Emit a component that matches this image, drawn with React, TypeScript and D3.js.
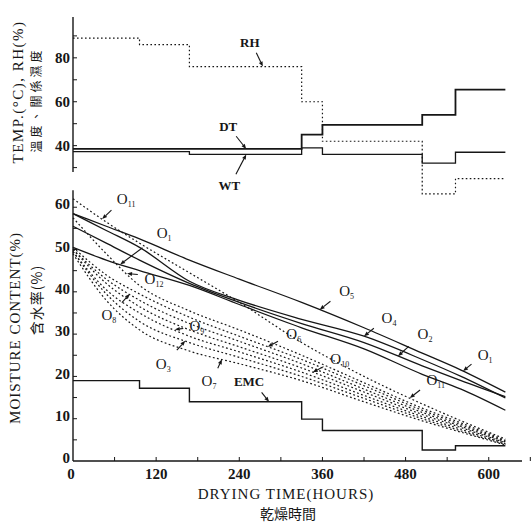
import * as d3 from "d3";

// drying time (hours) sampled along each moisture curve
const HOURS = [0, 48, 96, 168, 240, 330, 420, 504, 560, 624];

// solid curves
const O5 = [58.5, 55.5, 52.5, 47.5, 43, 37.5, 31.5, 25.5, 21.5, 16.3];
const O4 = [58.5, 54.5, 50.5, 42.5, 38, 33.5, 29.5, 24, 20, 14.9];
const O2 = [55.5, 51.5, 47.5, 42, 37.5, 32.5, 28, 22.5, 19, 15.2];
const O1 = [50.5, 47.5, 45, 41.5, 37, 31.5, 26.5, 20.5, 17, 12];

// dotted curves
const O11 = [62, 56.5, 51.5, 44.5, 37.5, 28, 20, 13.5, 9.5, 5.2];
const O12 = [57.5, 49, 41.5, 35.5, 31, 25, 18.5, 12.5, 9, 4.9];
const O6 = [50.5, 44, 39.5, 34, 29.5, 24, 17.8, 12, 8.6, 4.7];
const O8 = [50, 43, 38, 32.5, 28.3, 23, 17, 11.5, 8.2, 4.5];
const O10 = [50, 42, 36.5, 31, 27, 22, 16.3, 11, 7.9, 4.3];
const O9 = [49.5, 40.5, 35, 29.5, 25.8, 21, 15.5, 10.5, 7.5, 4.1];
const O3 = [49.5, 39.5, 33, 28, 24.5, 20, 14.8, 10, 7.1, 3.9];
const O7 = [49, 38, 31, 26, 23, 19, 14, 9.5, 6.8, 3.8];

// kiln schedule steps
const STEP_HOURS = [0, 96, 168, 330, 360, 504, 552];
const END_HOUR = 624;
const RH = [89, 86, 76, 60, 42, 18, 25];
const DT = [38.5, 38.5, 38.5, 45, 49.5, 54, 65.5];
const WT = [37.3, 37.3, 36, 39, 36, 32, 37];
const EMC = [19, 17.2, 14, 9.9, 7.2, 2.6, 3.6];

const X_LABELS = [0, 120, 240, 360, 480, 600];
const MC_LABELS = [0, 10, 20, 30, 40, 50, 60];
const TOP_LABELS = [40, 60, 80];

const solidSeries = [
  { name: "O5", values: O5 },
  { name: "O4", values: O4 },
  { name: "O2", values: O2 },
  { name: "O1", values: O1 },
];
const dottedSeries = [
  { name: "O11", values: O11 },
  { name: "O12", values: O12 },
  { name: "O6", values: O6 },
  { name: "O8", values: O8 },
  { name: "O10", values: O10 },
  { name: "O9", values: O9 },
  { name: "O3", values: O3 },
  { name: "O7", values: O7 },
];

// annotations: [label, subscript, series, hour, label dx, label dy]
const BOTTOM_NOTES: [string, string, string, number, number, number][] = [
  ["O", "11", "O11", 42, 20, -19],
  ["O", "1", "O1", 68, 40, -30],
  ["O", "12", "O12", 78, 23, 2],
  ["O", "8", "O8", 82, -17, 18],
  ["O", "9", "O9", 147, 18, -2],
  ["O", "3", "O3", 162, -18, 20],
  ["O", "7", "O7", 215, -9, 19],
  ["EMC", "", "EMC", 283, -16, -20],
  ["O", "6", "O6", 281, 22, -12],
  ["O", "10", "O10", 346, 23, -12],
  ["O", "5", "O5", 356, 23, -18],
  ["O", "4", "O4", 420, 21, -17],
  ["O", "2", "O2", 469, 23, -21],
  ["O", "1", "O5", 563, 18, -15],
  ["O", "11", "O11", 486, 22, -17],
];
const TOP_NOTES: [string, string, number, number, number][] = [
  ["RH", "RH", 274, -10, -21],
  ["DT", "DT", 250, -15, -19],
  ["WT", "WT", 250, -14, 27],
];

const INK = "#161616";
const SERIF = "'Liberation Serif', 'DejaVu Serif', serif";
const CJK = "'Noto Sans CJK TC', 'Noto Sans CJK JP', sans-serif";

function interp(values: number[], h: number) {
  return d3.scaleLinear().domain(HOURS).range(values).clamp(true)(h);
}
function stepAt(values: number[], h: number) {
  const i = d3.bisectRight(STEP_HOURS, h) - 1;
  return values[Math.max(0, i)];
}

export default function App() {
  const width = 532;
  const height = 528;

  const x = d3.scaleLinear().domain([0, 648]).range([73, 522]);
  const yMc = d3.scaleLinear().domain([0, 64]).range([461, 190.3]);
  const yTop = d3.scaleLinear().domain([28, 98.6]).range([172, 17]);

  const curve = d3
    .line<[number, number]>()
    .x((d) => x(d[0]))
    .y((d) => yMc(d[1]))
    .curve(d3.curveMonotoneX);

  const stepLine = (ys: d3.ScaleLinear<number, number>) =>
    d3
      .line<[number, number]>()
      .x((d) => x(d[0]))
      .y((d) => ys(d[1]))
      .curve(d3.curveStepAfter);

  const stepPts = (vals: number[]): [number, number][] => [
    ...STEP_HOURS.map((h, i) => [h, vals[i]] as [number, number]),
    [END_HOUR, vals[vals.length - 1]],
  ];

  const allSeries: Record<string, number[]> = {};
  [...solidSeries, ...dottedSeries].forEach((s) => (allSeries[s.name] = s.values));

  const arrow = (tx: number, ty: number, lx: number, ly: number, key: string) => {
    // line from near the label toward the target, with a small head
    const ang = Math.atan2(ty - ly, tx - lx);
    const len = Math.hypot(tx - lx, ty - ly);
    const sx = lx + Math.cos(ang) * Math.min(8, len * 0.35);
    const sy = ly + Math.sin(ang) * Math.min(8, len * 0.35);
    const hl = 5;
    const hw = 2;
    const bx = tx - Math.cos(ang) * hl;
    const by = ty - Math.sin(ang) * hl;
    const px = -Math.sin(ang) * hw;
    const py = Math.cos(ang) * hw;
    return (
      <g key={key}>
        <line x1={sx} y1={sy} x2={bx} y2={by} stroke={INK} strokeWidth={1.1} />
        <path d={`M${tx},${ty}L${bx + px},${by + py}L${bx - px},${by - py}Z`} fill={INK} />
      </g>
    );
  };

  const noteLabel = (main: string, sub: string, lx: number, ly: number, key: string) => (
    <text key={key} x={lx} y={ly + 5} textAnchor="middle" fontFamily={SERIF} fontSize={main === "O" ? 15 : 13} fill={INK} fontWeight={main === "O" ? "normal" : "bold"}>
      {main}
      {sub && (
        <tspan fontSize={8} dy={3}>
          {sub}
        </tspan>
      )}
    </text>
  );

  return (
    <svg width={width} height={height} style={{ position: "absolute", left: 0, top: 0, background: "#fff" }}>
      <rect width={width} height={height} fill="#fff" />

      {/* top panel: temperatures and RH */}
      <line x1={73} x2={73} y1={yTop.range()[1]} y2={yTop.range()[0]} stroke={INK} strokeWidth={1.4} />
      {d3.range(30, 100, 10).map((v) => (
        <line key={"tt" + v} x1={73} x2={77} y1={yTop(v)} y2={yTop(v)} stroke={INK} strokeWidth={1} />
      ))}
      {TOP_LABELS.map((v) => (
        <text key={"tl" + v} x={70} y={yTop(v)} dy="0.35em" textAnchor="end" fontFamily={SERIF} fontSize={15} fontWeight="bold" fill={INK}>
          {v}
        </text>
      ))}
      <path d={stepLine(yTop)(stepPts(RH)) || ""} fill="none" stroke={INK} strokeWidth={1.2} strokeDasharray="1.6,2.4" />
      <path d={stepLine(yTop)(stepPts(DT)) || ""} fill="none" stroke={INK} strokeWidth={1.8} />
      <path d={stepLine(yTop)(stepPts(WT)) || ""} fill="none" stroke={INK} strokeWidth={1.3} />
      {TOP_NOTES.map(([lab, key, h, dx, dy], i) => {
        const vals = key === "RH" ? RH : key === "DT" ? DT : WT;
        const tx = x(h);
        const ty = yTop(stepAt(vals, h));
        return (
          <g key={"tn" + i}>
            {arrow(tx, ty, tx + dx, ty + dy, "ta" + i)}
            {noteLabel(lab, "", tx + dx - 3, ty + dy - (dy < 0 ? 4 : -4), "tx" + i)}
          </g>
        );
      })}

      {/* bottom panel: moisture content */}
      <line x1={73} x2={73} y1={yMc.range()[1]} y2={yMc.range()[0]} stroke={INK} strokeWidth={1.4} />
      <line x1={73} x2={522} y1={yMc(0)} y2={yMc(0)} stroke={INK} strokeWidth={1.4} />
      {d3.range(5, 65, 5).map((v) => (
        <line key={"mt" + v} x1={73} x2={77} y1={yMc(v)} y2={yMc(v)} stroke={INK} strokeWidth={1} />
      ))}
      {d3.range(60, 661, 60).map((h) => (
        <line key={"xt" + h} x1={x(h)} x2={x(h)} y1={yMc(0)} y2={yMc(0) - 4} stroke={INK} strokeWidth={1} />
      ))}
      {MC_LABELS.map((v) => (
        <text key={"ml" + v} x={70} y={yMc(v) - 3} dy="0.35em" textAnchor="end" fontFamily={SERIF} fontSize={15} fontWeight="bold" fill={INK}>
          {v}
        </text>
      ))}
      {X_LABELS.map((h) => (
        <text key={"xl" + h} x={x(h) + (h === 0 ? -2 : 0)} y={479} textAnchor="middle" fontFamily={SERIF} fontSize={15} fontWeight="bold" fill={INK}>
          {h}
        </text>
      ))}

      <path d={stepLine(yMc)(stepPts(EMC)) || ""} fill="none" stroke={INK} strokeWidth={1.4} />

      {dottedSeries.map((s) => (
        <path key={s.name} d={curve(HOURS.map((h, i) => [h, s.values[i]] as [number, number])) || ""} fill="none" stroke={INK} strokeWidth={1.2} strokeDasharray="1.8,2.4" />
      ))}
      {solidSeries.map((s) => (
        <path key={s.name} d={curve(HOURS.map((h, i) => [h, s.values[i]] as [number, number])) || ""} fill="none" stroke={INK} strokeWidth={1.3} />
      ))}

      {BOTTOM_NOTES.map(([main, sub, key, h, dx, dy], i) => {
        const v = key === "EMC" ? stepAt(EMC, h) : interp(allSeries[key], h);
        const tx = x(h);
        const ty = yMc(v);
        return (
          <g key={"bn" + i}>
            {arrow(tx, ty, tx + dx * 0.72, ty + dy * 0.72, "ba" + i)}
            {noteLabel(main, sub, tx + dx + (dx > 0 ? 4 : -4), ty + dy + (dy > 0 ? 3 : -1), "bx" + i)}
          </g>
        );
      })}

      {/* axis titles */}
      <text x={286} y={499} textAnchor="middle" fontFamily={SERIF} fontSize={15} letterSpacing={1} fill={INK}>
        DRYING TIME(HOURS)
      </text>
      <text x={288} y={519} textAnchor="middle" fontFamily={CJK} fontSize={14} fill={INK}>
        乾燥時間
      </text>
      <text transform="translate(20,328) rotate(-90)" textAnchor="middle" fontFamily={SERIF} fontSize={15} letterSpacing={1} fill={INK}>
        MOISTURE CONTENT(%)
      </text>
      <text transform="translate(42,300) rotate(-90)" textAnchor="middle" fontFamily={CJK} fontSize={14} letterSpacing={1} fill={INK}>
        含水率(%)
      </text>
      <text transform="translate(23,92) rotate(-90)" textAnchor="middle" fontFamily={SERIF} fontSize={15} letterSpacing={1.5} fill={INK}>
        TEMP.(°C), RH(%)
      </text>
      <text transform="translate(41,100) rotate(-90)" textAnchor="middle" fontFamily={CJK} fontSize={12} letterSpacing={3} fill={INK}>
        溫度、關係濕度
      </text>
    </svg>
  );
}
